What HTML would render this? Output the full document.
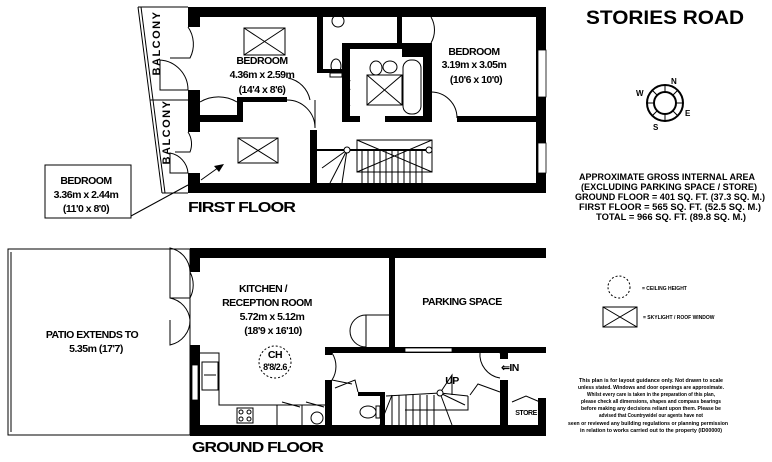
<!DOCTYPE html>
<html><head><meta charset="utf-8"><style>
html,body{margin:0;padding:0;background:#fff;}
svg{display:block;font-family:"Liberation Sans",sans-serif;}
text{font-weight:bold;fill:#000;}
</style></head><body>
<svg width="772" height="462" viewBox="0 0 772 462" xmlns="http://www.w3.org/2000/svg">
<rect width="772" height="462" fill="#fff"/>
<g fill="#000" stroke="none">
<rect x="188" y="7" width="358" height="10"/>
<rect x="188" y="183" width="358" height="10"/>
<rect x="536" y="7" width="10" height="186"/>
<rect x="188" y="7" width="12" height="20"/>
<rect x="188" y="90" width="12" height="42"/>
<rect x="188" y="173" width="12" height="20"/>
<rect x="200" y="115" width="42" height="7"/>
<rect x="237" y="97" width="6" height="25"/>
<rect x="237" y="97" width="50" height="5"/>
<rect x="310" y="130" width="7" height="55"/>
<rect x="317" y="17" width="6" height="56"/>
<rect x="317" y="69" width="32" height="4"/>
<rect x="342" y="43" width="8" height="79"/>
<rect x="342" y="43" width="90" height="6"/>
<rect x="402" y="43" width="25" height="14"/>
<rect x="397" y="17" width="5" height="28"/>
<rect x="423" y="43" width="9" height="79"/>
<rect x="342" y="116" width="18" height="6"/>
<rect x="385" y="116" width="47" height="6"/>
<rect x="457" y="116" width="89" height="6"/>
<rect x="190" y="248" width="356" height="10"/>
<rect x="190" y="425" width="356" height="11"/>
<rect x="190" y="248" width="10" height="24"/>
<rect x="190" y="345" width="10" height="90"/>
<rect x="389" y="258" width="6" height="90"/>
<rect x="325" y="347" width="221" height="6"/>
<rect x="325" y="347" width="7" height="8"/>
<rect x="325" y="380" width="7" height="48"/>
<rect x="358" y="392" width="27" height="4"/>
<rect x="380" y="392" width="5" height="35"/>
<rect x="500" y="347" width="8" height="12"/>
<rect x="500" y="380" width="8" height="48"/>
<rect x="538" y="398" width="8" height="30"/>
</g>
<g fill="#fff" stroke="#000" stroke-width="0.8">
<rect x="538" y="50" width="8" height="47"/>
<rect x="538" y="143" width="8" height="30"/>
<rect x="192" y="365" width="6" height="35"/>
<rect x="405" y="348" width="47" height="4"/>
</g>
<g fill="none" stroke="#000" stroke-width="1">
<polyline points="138,7 188,7"/>
<line x1="138" y1="7" x2="162" y2="193"/>
<line x1="141" y1="7" x2="165" y2="193"/>
<line x1="150" y1="100" x2="188" y2="100"/>
<line x1="162" y1="193" x2="188" y2="193"/>
<path d="M188,27 A30,30 0 0 1 190,58 L170,58"/>
<path d="M188,90 A30,30 0 0 0 160,60 L160,90 L188,90"/>
<path d="M188,132 A22,22 0 0 1 190,152 L175,152"/>
<path d="M188,173 A22,22 0 0 0 170,153 L170,173 L188,173"/>
<path d="M200,102 A36,36 0 0 1 237,102"/>
<path d="M287,100 A28,28 0 0 1 315,128 L315,100"/>
<path d="M310,100 A28,28 0 0 0 288,78"/>
<path d="M457,118 A26,26 0 0 0 431,92"/>
<path d="M431,17 A26,26 0 0 1 431,43"/>
<path d="M350,90 A12,12 0 0 1 350,80"/>
<path d="M350,118 A10,10 0 0 1 350,105"/>
<rect x="244" y="28" width="41" height="27"/><path d="M244,28 L285,55 M285,28 L244,55"/>
<rect x="238" y="138" width="40" height="25"/><path d="M238,138 L278,163 M278,138 L238,163"/>
<rect x="367" y="75" width="35" height="30"/><path d="M367,75 L402,105 M402,75 L367,105"/>
<rect x="357" y="140" width="75" height="32"/><path d="M357,140 L432,172 M432,140 L357,172"/>
<rect x="403" y="60" width="18" height="54" rx="8"/>
<ellipse cx="376" cy="68" rx="6" ry="7"/><ellipse cx="390" cy="67" rx="7" ry="6"/>
<ellipse cx="336" cy="66" rx="5" ry="7"/><rect x="330" y="73" width="12" height="4"/>
<circle cx="338" cy="21" r="6"/>
<line x1="317" y1="150" x2="430" y2="150" stroke-width="2"/>
<path d="M362,150 L362,183 M368,150 L368,183 M374,150 L374,183 M380,150 L380,183 M386,150 L386,183 M392,150 L392,183 M398,150 L398,183 M404,150 L404,183 M410,150 L410,183 M416,150 L416,183 M422,150 L422,183"/>
<path d="M322,168 L347,150 L330,183 M347,150 L342,183"/>
<circle cx="347" cy="150" r="3" fill="#fff"/><circle cx="429" cy="150" r="3" fill="#fff"/>
<rect x="45" y="165" width="86" height="53"/>
<line x1="131" y1="216" x2="188" y2="185"/>
<line x1="201" y1="180" x2="222" y2="165"/>
<rect x="8" y="249" width="182" height="186"/>
<line x1="11" y1="252" x2="11" y2="432"/>
<path d="M190,272 A25,25 0 0 0 170,248 L170,272"/>
<path d="M190,272 A28,28 0 0 1 190,298 L170,298 L170,272"/>
<path d="M190,320 A25,25 0 0 0 170,298"/>
<path d="M190,320 A25,25 0 0 1 170,345 L170,320"/>
<polyline points="200,353 219,353 219,405 325,405"/>
<rect x="202" y="362" width="16" height="28"/>
<line x1="204" y1="375" x2="216" y2="375"/>
<rect x="237" y="408" width="16" height="15"/>
<circle cx="241" cy="412" r="2"/><circle cx="249" cy="412" r="2"/><circle cx="241" cy="419" r="2"/><circle cx="249" cy="419" r="2"/>
<path d="M277,405 L277,425 M302,405 L302,425"/>
<path d="M282,402 L300,407 M306,402 L324,407"/>
<circle cx="275" cy="362" r="16" stroke-dasharray="2,2"/>
<polyline points="366,347 366,315 389,315"/>
<path d="M366,347 A16,16 0 0 1 366,315"/>
<path d="M332,353 A25,25 0 0 1 332,380 L352,384"/>
<path d="M500,353 A22,22 0 0 0 480,352 M480,352 A24,24 0 0 0 500,378"/>
<path d="M335,388 L355,380 L358,392"/>
<path d="M470,395 L478,384 L500,392"/>
<path d="M512,402 L526,396 L540,402"/>
<path d="M392,395 L392,425 M399,395 L399,425 M406,395 L406,425 M413,395 L413,425 M420,395 L420,425 M427,395 L427,425 M434,395 L434,425"/>
<polyline points="386,396 440,393 468,396"/>
<path d="M405,410 L468,410 L468,396 M440,393 L465,405 M440,393 L452,425 M440,393 L452,375 L452,395"/>
<path d="M392,395 L380,425"/>
<circle cx="440" cy="393" r="3" fill="#fff"/>
<ellipse cx="368" cy="412" rx="8" ry="6"/><rect x="376" y="406" width="4" height="12"/>
<circle cx="317" cy="418" r="6"/>
<circle cx="619" cy="287" r="11" stroke-dasharray="2,2"/>
<rect x="603" y="307" width="34" height="20"/><path d="M603,307 L637,327 M637,307 L603,327"/>
<circle cx="665" cy="103" r="18" stroke-width="2"/>
<circle cx="665" cy="103" r="11" stroke-width="2"/>
<path d="M665,85 L665,92 M665,114 L665,121 M647,103 L654,103 M676,103 L683,103 M652,90 L657,95 M678,90 L673,95 M652,116 L657,111 M678,116 L673,111"/>
</g>
<path d="M224,164 L214,166 L219,172 Z" fill="#000"/>
<g font-size="11" letter-spacing="1.5">
<text transform="translate(160,43) rotate(-90)" text-anchor="middle">BALCONY</text>
<text transform="translate(170,132) rotate(-90)" text-anchor="middle">BALCONY</text>
</g>
<g font-size="10.5" text-anchor="middle" letter-spacing="-0.5">
<text x="262" y="64">BEDROOM</text>
<text x="262" y="78">4.36m x 2.59m</text>
<text x="262" y="93">(14'4 x 8'6)</text>
<text x="474" y="55">BEDROOM</text>
<text x="474" y="68">3.19m x 3.05m</text>
<text x="476" y="83">(10'6 x 10'0)</text>
<text x="86" y="184">BEDROOM</text>
<text x="86" y="198">3.36m x 2.44m</text>
<text x="86" y="212">(11'0 x 8'0)</text>
<text x="263" y="292">KITCHEN /</text>
<text x="267" y="306">RECEPTION ROOM</text>
<text x="272" y="320">5.72m x 5.12m</text>
<text x="273" y="334">(18'9 x 16'10)</text>
<text x="275" y="358">CH</text>
<text x="275" y="370" font-size="9">8'8/2.6</text>
<text x="462" y="305">PARKING SPACE</text>
<text x="92" y="338">PATIO EXTENDS TO</text>
<text x="96" y="352">5.35m (17'7)</text>
<text x="452" y="384">UP</text>
<text x="510" y="371">⇐IN</text>
<text x="526" y="415" font-size="7">STORE</text>
</g>
<text x="188" y="212" font-size="15" letter-spacing="-0.8" textLength="107" lengthAdjust="spacingAndGlyphs">FIRST FLOOR</text>
<text x="192" y="452" font-size="15" letter-spacing="-0.8" textLength="131" lengthAdjust="spacingAndGlyphs">GROUND FLOOR</text>
<text x="665" y="24" font-size="19" text-anchor="middle" textLength="158" lengthAdjust="spacingAndGlyphs">STORIES ROAD</text>
<g font-size="9.5" text-anchor="middle">
<text x="667" y="180" textLength="176" lengthAdjust="spacingAndGlyphs">APPROXIMATE GROSS INTERNAL AREA</text>
<text x="669" y="190" textLength="176" lengthAdjust="spacingAndGlyphs">(EXCLUDING PARKING SPACE / STORE)</text>
<text x="670" y="200" textLength="190" lengthAdjust="spacingAndGlyphs">GROUND FLOOR = 401 SQ. FT. (37.3 SQ. M.)</text>
<text x="670" y="210" textLength="182" lengthAdjust="spacingAndGlyphs">FIRST FLOOR = 565 SQ. FT. (52.5 SQ. M.)</text>
<text x="671" y="220" textLength="150" lengthAdjust="spacingAndGlyphs">TOTAL =  966 SQ. FT. (89.8 SQ. M.)</text>
</g>
<g font-size="8">
<text x="671" y="84">N</text><text x="636" y="96">W</text><text x="685" y="116">E</text><text x="653" y="130">S</text>
</g>
<g font-size="5">
<text x="642" y="290">= CEILING HEIGHT</text>
<text x="643" y="319">= SKYLIGHT / ROOF WINDOW</text>
</g>
<g font-size="5" text-anchor="middle">
<text x="651" y="382" textLength="144" lengthAdjust="spacingAndGlyphs">This plan is for layout guidance only. Not drawn to scale</text>
<text x="651" y="389" textLength="146" lengthAdjust="spacingAndGlyphs">unless stated. Windows and door openings are approximate.</text>
<text x="651" y="396" textLength="128" lengthAdjust="spacingAndGlyphs">Whilst every care is taken in the preparation of this plan,</text>
<text x="651" y="403" textLength="140" lengthAdjust="spacingAndGlyphs">please check all dimensions, shapes and compass bearings</text>
<text x="651" y="410" textLength="140" lengthAdjust="spacingAndGlyphs">before making any decisions reliant upon them. Please be</text>
<text x="651" y="417" textLength="104" lengthAdjust="spacingAndGlyphs">advised that Countrywide/ our agents have not</text>
<text x="648" y="425" textLength="160" lengthAdjust="spacingAndGlyphs">seen or reviewed any building regulations or planning permission</text>
<text x="651" y="432" textLength="142" lengthAdjust="spacingAndGlyphs">in relation to works carried out to the property (ID00000)</text>
</g>
</svg>
</body></html>
